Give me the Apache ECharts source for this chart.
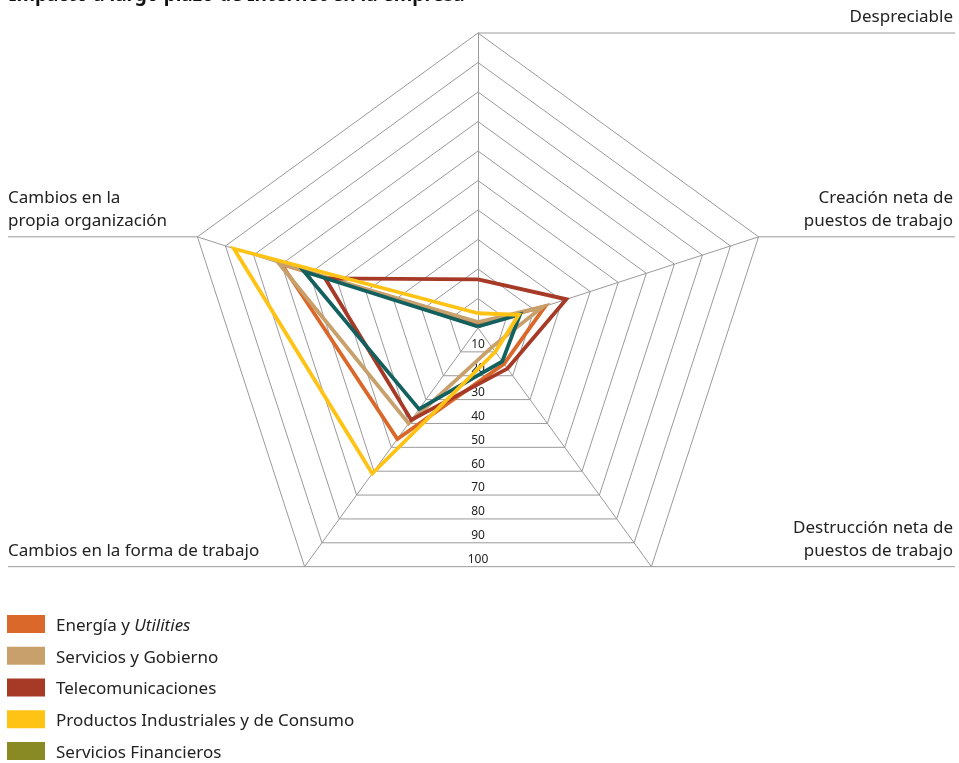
<!DOCTYPE html>
<html>
<head>
<meta charset="utf-8">
<style>
  html, body { margin: 0; padding: 0; background: #ffffff; }
  #chart { width: 959px; height: 763px; }
</style>
<script src="https://cdn.jsdelivr.net/npm/echarts@6/dist/echarts.min.js"></script>
</head>
<body>
<div id="chart"></div>
<script>
// Radar axes, starting at the top and going counter-clockwise
const indicatorNames = [
  'Despreciable',
  'Cambios en la propia organización',
  'Cambios en la forma de trabajo',
  'Destrucción neta de puestos de trabajo',
  'Creación neta de puestos de trabajo'
];

// Ring values written down the middle of the web
const ringTicks = [10, 20, 30, 40, 50, 60, 70, 80, 90, 100];

// Sector names as shown in the legend
const sectorNames = [
  'Energía y Utilities',
  'Servicios y Gobierno',
  'Telecomunicaciones',
  'Productos Industriales y de Consumo',
  'Servicios Financieros',
  'Tecnología'
];

// Scores per sector, one value per axis (same order as indicatorNames)
const energiaValues     = [1.5, 70, 46.5, 15, 24];
const serviciosValues   = [2, 71, 40, 8, 23];
const telecomValues     = [16.5, 54.5, 38.5, 17, 31.5];
const productosValues   = [5, 87, 61, 10, 14.5];
const financierosValues = [];
const tecnologiaValues  = [0.5, 62, 34, 14, 15];

const COLORS = {
  energia: '#D9682A',
  servicios: '#C8A06C',
  telecom: '#A73A27',
  productos: '#FFC316',
  financieros: '#8A8A25',
  tecnologia: '#13615E'
};

const CX = 478, CY = 328, R = 295;
const GRID_COLOR = '#9a9a9a';
const FONT = '"Noto Sans", "Open Sans", sans-serif';

const chart = echarts.init(document.getElementById('chart'));

function radarSeries(name, values, color) {
  return {
    type: 'radar',
    name: name,
    symbol: 'none',
    lineStyle: { color: color, width: 3.8, join: 'miter' },
    itemStyle: { color: color },
    data: values.length ? [{ value: values, name: name }] : []
  };
}

// Axis end points of the pentagon, used for the label leader lines
function vertex(i) {
  const a = Math.PI / 2 + i * 2 * Math.PI / indicatorNames.length;
  return [CX + R * Math.cos(a), CY - R * Math.sin(a)];
}

const labelStyle = { fontFamily: FONT, fontSize: 17, fill: '#222', lineHeight: 23 };
const graphics = [];

// Title
graphics.push({
  type: 'text', left: 9, top: -14,
  style: { text: 'Impacto a largo plazo de Internet en la empresa', fontFamily: FONT, fontSize: 19, fontWeight: 'bold', fill: '#111' }
});

// Leader lines and axis captions
const captions = [
  { idx: 0, text: 'Despreciable', side: 'right' },
  { idx: 1, text: 'Cambios en la\npropia organización', side: 'left' },
  { idx: 2, text: 'Cambios en la forma de trabajo', side: 'left' },
  { idx: 3, text: 'Destrucción neta de\npuestos de trabajo', side: 'right' },
  { idx: 4, text: 'Creación neta de\npuestos de trabajo', side: 'right' }
];
captions.forEach(function (c) {
  const p = vertex(c.idx);
  const x2 = c.side === 'right' ? 955 : 8;
  graphics.push({
    type: 'line', silent: true,
    shape: { x1: p[0], y1: p[1], x2: x2, y2: p[1] },
    style: { stroke: GRID_COLOR, lineWidth: 1 }
  });
  graphics.push({
    type: 'text', silent: true,
    x: c.side === 'right' ? 953 : 8,
    y: p[1] - 4,
    style: Object.assign({}, labelStyle, {
      text: c.text,
      align: c.side === 'right' ? 'right' : 'left',
      verticalAlign: 'bottom'
    })
  });
});

const option = {
  animation: false,
  backgroundColor: '#ffffff',
  graphic: graphics,
  legend: {
    orient: 'vertical',
    left: 7,
    top: 613,
    height: 300,
    padding: 0,
    icon: 'rect',
    itemWidth: 38,
    itemHeight: 18,
    itemGap: 9.75,
    data: sectorNames,
    formatter: function (name) {
      if (name === 'Energía y Utilities') return 'Energía y {it|Utilities}';
      return name;
    },
    textStyle: {
      fontFamily: FONT, fontSize: 17, color: '#222', lineHeight: 18, padding: [4, 0, 0, 6],
      rich: { it: { fontFamily: FONT, fontSize: 17, fontStyle: 'italic', color: '#222' } }
    }
  },
  radar: {
    center: [CX, CY],
    radius: R,
    shape: 'polygon',
    startAngle: 90,
    splitNumber: 10,
    indicator: indicatorNames.map(function (n) { return { name: n, min: 0, max: 100 }; }),
    axisName: { show: false },
    axisLine: { lineStyle: { color: GRID_COLOR, width: 1 } },
    splitLine: { lineStyle: { color: GRID_COLOR, width: 1 } },
    splitArea: { show: false }
  },
  // Hidden vertical value axis that places the ring values on the bottom edges
  grid: { left: CX, width: 1, top: CY - 7, height: R * Math.cos(Math.PI / 5), containLabel: false },
  xAxis: { type: 'value', show: false },
  yAxis: {
    type: 'value', min: 0, max: 100, interval: 10, inverse: true,
    axisLine: { show: false }, axisTick: { show: false }, splitLine: { show: false },
    axisLabel: {
      margin: 0, align: 'center', fontFamily: FONT, fontSize: 12, color: '#222',
      formatter: function (v) { return ringTicks.indexOf(v) >= 0 ? String(v) : ''; }
    }
  },
  series: [
    radarSeries(sectorNames[4], financierosValues, COLORS.financieros),
    radarSeries(sectorNames[0], energiaValues, COLORS.energia),
    radarSeries(sectorNames[1], serviciosValues, COLORS.servicios),
    radarSeries(sectorNames[2], telecomValues, COLORS.telecom),
    radarSeries(sectorNames[5], tecnologiaValues, COLORS.tecnologia),
    radarSeries(sectorNames[3], productosValues, COLORS.productos)
  ]
};

chart.setOption(option);
</script>
</body>
</html>
